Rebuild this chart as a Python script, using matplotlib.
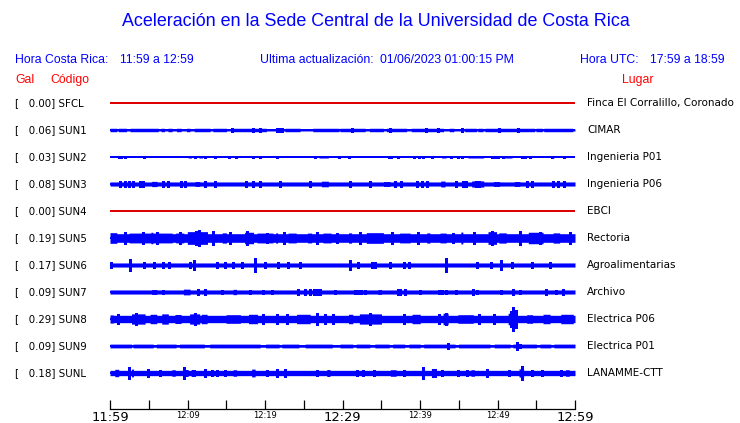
import numpy as np
import matplotlib
matplotlib.use("Agg")
import matplotlib.pyplot as plt
import matplotlib.transforms as mtransforms

# ---------------- data ----------------
title = "Aceleración en la Sede Central de la Universidad de Costa Rica"
hora_cr = "11:59 a 12:59"
hora_utc = "17:59 a 18:59"
actualizacion = "01/06/2023 01:00:15 PM"

codes = ["SFCL", "SUN1", "SUN2", "SUN3", "SUN4", "SUN5", "SUN6", "SUN7", "SUN8", "SUN9", "SUNL"]
places = ["Finca El Corralillo, Coronado", "CIMAR", "Ingenieria P01", "Ingenieria P06", "EBCI",
          "Rectoria", "Agroalimentarias", "Archivo", "Electrica P06", "Electrica P01", "LANAMME-CTT"]
gal_max = [0.00, 0.06, 0.03, 0.08, 0.00, 0.19, 0.17, 0.09, 0.29, 0.09, 0.18]

# background amplitude (Gal) of each trace
base_amp = [0.0, 0.024, 0.0, 0.05, 0.0, 0.105, 0.05, 0.05, 0.09, 0.03, 0.065]

# minutes after 11:59 : (start, end, amplitude in Gal)
sfcl_blocks = []
sun1_blocks = [(0, 0.86, 0.042), (1.1, 2.1, 0.042), (2.6, 6.2, 0.042), (6.6, 7.0, 0.042), (7.5, 8.0, 0.042),
               (8.6, 9.2, 0.042), (9.9, 10.3, 0.042), (10.9, 12.9, 0.042), (13.3, 15.0, 0.042),
               (15.7, 20.2, 0.042), (21.5, 22.4, 0.042), (22.6, 24.5, 0.042), (26.2, 29.5, 0.042),
               (29.7, 32.9, 0.042), (33.5, 35.3, 0.042), (35.7, 38.3, 0.042), (38.9, 43.0, 0.042),
               (43.8, 44.4, 0.042), (45.8, 47.3, 0.042), (47.5, 48.1, 0.042), (48.4, 54.8, 0.042),
               (55.0, 55.8, 0.042), (56.0, 59.7, 0.042)]
sun2_blocks = [(10.1, 10.5, 0.025), (11.5, 11.9, 0.025), (27.0, 28.2, 0.025), (42.8, 43.4, 0.025),
               (46.2, 48.2, 0.025), (50.8, 51.9, 0.025), (56.9, 57.3, 0.025)]
sun3_blocks = [(5.4, 6.1, 0.064), (11.0, 11.6, 0.06), (27.3, 28.2, 0.068), (35.3, 36.1, 0.06),
               (42.7, 43.2, 0.072), (46.7, 48.2, 0.075), (49.5, 50.3, 0.06), (52.2, 52.9, 0.06)]
sun4_blocks = []
sun5_blocks = [(0, 0.86, 0.13), (1.8, 2.0, 0.13), (2.5, 8.0, 0.12), (5.3, 5.5, 0.14), (8.5, 9.5, 0.12),
               (10.0, 12.6, 0.155), (13.2, 13.4, 0.16), (14.5, 15.0, 0.125), (17.4, 18.5, 0.14),
               (19.0, 21.0, 0.12), (21.4, 21.6, 0.125), (23.0, 24.0, 0.12), (25.5, 26.0, 0.12),
               (27.5, 28.5, 0.12), (30.8, 31.2, 0.125), (33.1, 35.3, 0.13), (37.4, 38.7, 0.12),
               (40.9, 41.3, 0.125), (42.6, 43.4, 0.12), (45.3, 45.5, 0.145), (48.8, 49.9, 0.155),
               (50.2, 51.1, 0.125), (54.0, 55.9, 0.14), (57.2, 58.0, 0.125)]
sun6_blocks = []
sun7_blocks = [(5.4, 6.0, 0.06), (9.5, 10.3, 0.07), (15.9, 16.3, 0.065), (34.6, 35.0, 0.06)]
sun8_blocks = [(0, 0.4, 0.1), (2.8, 4.5, 0.125), (5.2, 6.0, 0.115), (6.7, 7.5, 0.125), (8.4, 9.2, 0.11),
               (10.3, 11.6, 0.125), (11.8, 12.5, 0.115), (15.0, 16.8, 0.105), (17.9, 19.0, 0.115),
               (24.1, 25.8, 0.115), (30.8, 31.3, 0.115), (32.2, 35.0, 0.125), (39.0, 40.0, 0.115),
               (43.0, 43.6, 0.14), (44.9, 46.9, 0.105), (51.4, 52.5, 0.14), (53.8, 54.5, 0.105),
               (55.9, 56.8, 0.115), (58.2, 59.8, 0.115)]
sun9_blocks = [(0, 2.8, 0.046), (3.0, 5.6, 0.046), (6.0, 8.5, 0.046), (9.0, 12.2, 0.046),
               (12.9, 19.4, 0.046), (20.1, 21.8, 0.046), (22.2, 24.4, 0.046), (25.2, 28.7, 0.046),
               (29.7, 31.3, 0.046), (31.8, 33.5, 0.046), (34.2, 36.0, 0.046), (36.5, 38.0, 0.046),
               (38.6, 40.0, 0.046), (40.5, 44.5, 0.046), (45.0, 49.0, 0.046), (49.6, 51.6, 0.046),
               (52.0, 55.0, 0.046), (55.5, 56.9, 0.046), (57.3, 60.0, 0.046)]
sunl_blocks = [(0.65, 1.1, 0.09), (2.8, 3.0, 0.095), (8.0, 8.4, 0.08), (9.5, 10.1, 0.085),
               (10.5, 11.0, 0.085), (15.9, 16.3, 0.08), (18.3, 18.7, 0.095), (28.0, 28.4, 0.085),
               (36.2, 36.9, 0.08), (41.5, 42.1, 0.11), (46.6, 47.0, 0.08), (52.8, 53.4, 0.1),
               (58.8, 59.3, 0.08)]

# minutes after 11:59 : (time, amplitude in Gal)
sfcl_spikes = []
sun1_spikes = [(15.8, 0.05), (18.5, 0.055), (19.3, 0.05), (21.6, 0.06), (21.9, 0.06), (22.2, 0.055),
               (31.2, 0.05), (36.1, 0.055), (40.8, 0.058), (42.3, 0.05), (45.4, 0.055), (50.2, 0.055),
               (52.6, 0.055)]
sun2_spikes = [(1.16, 0.02), (1.42, 0.02), (1.94, 0.02), (4.43, 0.03), (11.0, 0.02), (12.3, 0.02),
               (13.6, 0.02), (15.3, 0.02), (16.3, 0.03), (18.5, 0.02), (19.3, 0.02), (21.5, 0.02),
               (26.4, 0.02), (29.6, 0.02), (30.9, 0.02), (36.0, 0.02), (36.2, 0.02), (37.2, 0.02),
               (39.2, 0.02), (39.9, 0.025), (40.4, 0.02), (41.6, 0.02), (44.0, 0.02), (44.9, 0.02),
               (45.4, 0.02), (49.3, 0.025), (49.7, 0.02), (50.1, 0.02), (50.7, 0.02), (53.1, 0.02),
               (53.6, 0.02), (54.2, 0.02), (57.0, 0.02), (58.6, 0.02)]
sun3_spikes = [(1.3, 0.062), (1.9, 0.062), (2.4, 0.062), (3.0, 0.062), (3.9, 0.062), (4.3, 0.062),
               (6.9, 0.062), (7.5, 0.062), (9.2, 0.062), (9.7, 0.062), (12.3, 0.068), (13.6, 0.062),
               (17.6, 0.062), (18.5, 0.062), (19.3, 0.068), (21.9, 0.062), (25.8, 0.062), (31.0, 0.062),
               (33.5, 0.062), (36.8, 0.062), (37.6, 0.062), (39.6, 0.062), (40.2, 0.062), (40.9, 0.062),
               (44.7, 0.062), (45.5, 0.062), (45.9, 0.062), (47.2, 0.08), (47.6, 0.078), (53.8, 0.062),
               (54.4, 0.062), (57.2, 0.062), (57.8, 0.062), (58.6, 0.065)]
sun4_spikes = []
sun5_spikes = [(11.5, 0.19), (11.1, 0.165), (17.7, 0.165), (52.9, 0.175), (49.3, 0.16), (13.3, 0.16),
               (1.9, 0.14), (4.2, 0.14), (6.0, 0.14), (9.0, 0.135), (15.5, 0.135), (20.3, 0.13),
               (22.4, 0.135), (26.7, 0.135), (29.3, 0.13), (32.2, 0.135), (36.4, 0.135), (39.7, 0.135),
               (44.2, 0.13), (47.0, 0.135), (55.5, 0.155), (59.3, 0.135)]
sun6_spikes = [(0.09, 0.07), (2.58, 0.15), (4.4, 0.065), (5.7, 0.065), (6.8, 0.065), (7.6, 0.065),
               (10.3, 0.065), (10.9, 0.13), (13.8, 0.07), (14.8, 0.065), (15.9, 0.065), (17.0, 0.065),
               (18.7, 0.17), (20.0, 0.07), (21.7, 0.065), (23.0, 0.08), (24.5, 0.065), (31.0, 0.12),
               (32.0, 0.065), (33.8, 0.07), (34.2, 0.07), (36.1, 0.065), (37.9, 0.07), (38.6, 0.07),
               (43.4, 0.17), (47.4, 0.07), (49.2, 0.065), (50.5, 0.12), (51.9, 0.07), (54.4, 0.08),
               (56.8, 0.065)]
sun7_spikes = [(6.8, 0.06), (11.4, 0.085), (12.3, 0.065), (14.4, 0.06), (18.1, 0.06), (19.8, 0.06),
               (20.9, 0.06), (24.3, 0.065), (25.2, 0.07), (25.8, 0.065), (26.3, 0.07), (26.7, 0.065),
               (27.1, 0.07), (29.0, 0.06), (31.6, 0.06), (32.0, 0.06), (32.4, 0.06), (32.9, 0.06),
               (37.1, 0.07), (37.4, 0.065), (38.0, 0.085), (40.0, 0.06), (42.4, 0.06), (42.9, 0.06),
               (43.4, 0.06), (44.7, 0.06), (46.9, 0.072), (47.4, 0.06), (50.5, 0.06), (52.0, 0.068),
               (52.9, 0.06), (56.3, 0.065), (57.6, 0.06), (58.5, 0.08)]
sun8_spikes = [(1.0, 0.11), (3.35, 0.155), (11.0, 0.155), (19.8, 0.12), (21.5, 0.11), (22.8, 0.11),
               (26.7, 0.155), (27.7, 0.12), (28.8, 0.11), (33.5, 0.135), (37.9, 0.12), (42.4, 0.12),
               (43.3, 0.155), (47.6, 0.11), (49.5, 0.12), (52.0, 0.29), (51.8, 0.2), (52.4, 0.22)]
sun9_spikes = [(43.6, 0.07), (52.5, 0.09), (52.9, 0.06)]
sunl_spikes = [(2.4, 0.15), (4.9, 0.105), (6.4, 0.085), (9.6, 0.14), (12.3, 0.09), (13.1, 0.08),
               (13.8, 0.08), (14.8, 0.08), (20.2, 0.08), (21.5, 0.105), (22.6, 0.105), (26.7, 0.08),
               (31.9, 0.085), (32.7, 0.08), (34.0, 0.08), (37.9, 0.08), (40.4, 0.15), (42.9, 0.08),
               (44.9, 0.08), (46.1, 0.08), (48.6, 0.09), (51.5, 0.08), (53.1, 0.18), (54.5, 0.08),
               (55.8, 0.085), (58.2, 0.08)]

blocks = [sfcl_blocks, sun1_blocks, sun2_blocks, sun3_blocks, sun4_blocks, sun5_blocks,
          sun6_blocks, sun7_blocks, sun8_blocks, sun9_blocks, sunl_blocks]
spikes = [sfcl_spikes, sun1_spikes, sun2_spikes, sun3_spikes, sun4_spikes, sun5_spikes,
          sun6_spikes, sun7_spikes, sun8_spikes, sun9_spikes, sunl_spikes]

tick_minutes = list(range(0, 61, 5))
tick_labels = ["11:59", "", "12:09", "", "12:19", "", "12:29", "", "12:39", "", "12:49", "", "12:59"]
big_labels = ["11:59", "12:29", "12:59"]

# ---------------- figure ----------------
W, H = 740, 423
fig = plt.figure(figsize=(W / 100, H / 100), dpi=100)
fig.patch.set_facecolor("white")

BLUE = "#0000ff"
RED = "#dd0000"
SANS_H = ["Liberation Sans", "DejaVu Sans"]
SANS_D = ["DejaVu Sans"]

def fx(px):
    return px / W

def fy(py):
    return 1 - py / H

# trace axes: x 110..575 px, y 90..409 px
ax = fig.add_axes([fx(110), fy(409), fx(575) - fx(110), fy(90) - fy(409)])
row_px = 27.0
ax.set_xlim(0, 60)
ax.set_ylim((409 - 103) / row_px, (90 - 103) / row_px)
for s in ["top", "left", "right"]:
    ax.spines[s].set_visible(False)
ax.spines["bottom"].set_linewidth(0.9)
ax.set_yticks([])
ax.set_xticks(tick_minutes)
ax.set_xticklabels(tick_labels, family=SANS_D)
ax.tick_params(axis="x", direction="in", length=6.5, width=0.9, pad=1.2)
for lab in ax.get_xticklabels():
    lab.set_fontsize(9.4 if lab.get_text() in big_labels else 6)

gal_to_rows = 41.0 / row_px  # pixel half-amplitude per Gal / row spacing
t = np.linspace(0, 60, 1201)
lw1 = 1.0
for i in range(len(codes)):
    if gal_max[i] == 0:
        ax.plot(t, np.full_like(t, i), color=RED, lw=lw1, solid_capstyle="butt", antialiased=False)
        continue
    env = np.full_like(t, base_amp[i])
    for (a, b, amp) in blocks[i]:
        m = (t >= a) & (t <= b)
        env[m] = np.maximum(env[m], amp)
    ax.fill_between(t, i - env * gal_to_rows, i + env * gal_to_rows, step="mid",
                    color=BLUE, lw=0, antialiased=False)
    ax.plot(t, np.full_like(t, i), color=BLUE, lw=lw1, solid_capstyle="butt", antialiased=False)
    if spikes[i]:
        st = np.array([s[0] for s in spikes[i]])
        sa = np.array([s[1] for s in spikes[i]])
        ax.vlines(st, i - sa * gal_to_rows, i + sa * gal_to_rows, color=BLUE, lw=lw1,
                  antialiased=False)

# station labels and places
trans = mtransforms.blended_transform_factory(fig.transFigure, ax.transData)
for i, (c, p, g) in enumerate(zip(codes, places, gal_max)):
    ax.text(fx(15), i, f"[   {g:.2f}] {c}", transform=trans, ha="left", va="center",
            fontsize=7.4, family=SANS_D, color="black")
    ax.text(fx(587), i, p, transform=trans, ha="left", va="center",
            fontsize=7.5, family=SANS_D, color="black")

# titles and headers
HS = 8.8
fig.text(fx(375.5), fy(22), title, ha="center", va="center", fontsize=12.9, color=BLUE, family=SANS_H)
fig.text(fx(15), fy(60), "Hora Costa Rica:", ha="left", va="center", fontsize=HS, color=BLUE, family=SANS_H)
fig.text(fx(120), fy(60), hora_cr, ha="left", va="center", fontsize=HS, color=BLUE, family=SANS_H)
fig.text(fx(260), fy(60), "Ultima actualización:", ha="left", va="center", fontsize=HS, color=BLUE, family=SANS_H)
fig.text(fx(380), fy(60), actualizacion, ha="left", va="center", fontsize=HS, color=BLUE, family=SANS_H)
fig.text(fx(580), fy(60), "Hora UTC:", ha="left", va="center", fontsize=HS, color=BLUE, family=SANS_H)
fig.text(fx(650), fy(60), hora_utc, ha="left", va="center", fontsize=HS, color=BLUE, family=SANS_H)
fig.text(fx(15), fy(80), "Gal", ha="left", va="center", fontsize=HS, color="#ff0000", family=SANS_H)
fig.text(fx(50), fy(80), "Código", ha="left", va="center", fontsize=HS, color="#ff0000", family=SANS_H)
fig.text(fx(622), fy(80), "Lugar", ha="left", va="center", fontsize=HS, color="#ff0000", family=SANS_H)

fig.savefig("out.png", dpi=100, facecolor="white")
